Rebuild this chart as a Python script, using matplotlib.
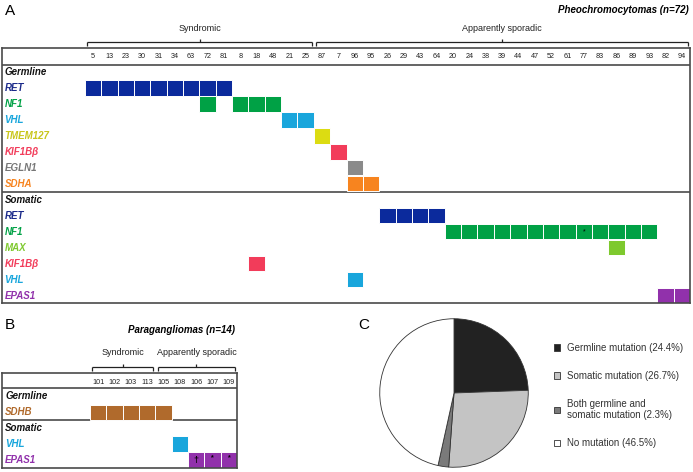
import matplotlib
matplotlib.use('Agg')
import matplotlib.pyplot as plt

plt.rcParams['font.family'] = ['Liberation Sans', 'DejaVu Sans']

# %%
# panel A - pheochromocytomas, case numbers in column order
pheo_cases = [5, 13, 23, 30, 31, 34, 63, 72, 81, 8, 18, 48, 21, 25, 87, 7, 96, 95,
              26, 29, 43, 64, 20, 24, 38, 39, 44, 47, 52, 61, 77, 83, 86, 89, 93, 82, 94]
pheo_syndromic = [5, 25]   # first / last case of the group
pheo_sporadic = [87, 94]

germ_genes = ['RET', 'NF1', 'VHL', 'TMEM127', 'KIF1Bβ', 'EGLN1', 'SDHA']
germ_ret = [5, 13, 23, 30, 31, 34, 63, 72, 81]
germ_nf1 = [72, 8, 18, 48]
germ_vhl = [21, 25]
germ_tmem127 = [87]
germ_kif1b = [7]
germ_egln1 = [96]
germ_sdha = [96, 95]

som_genes = ['RET', 'NF1', 'MAX', 'KIF1Bβ', 'VHL', 'EPAS1']
som_ret = [26, 29, 43, 64]
som_nf1 = [20, 24, 38, 39, 44, 47, 52, 61, 77, 83, 86, 89, 93]
som_max = [86]
som_kif1b = [18]
som_vhl = [96]
som_epas1 = [82, 94]
som_nf1_star = [77]

# panel B - paragangliomas
pgl_cases = [101, 102, 103, 113, 105, 108, 106, 107, 109]
pgl_syndromic = [101, 113]
pgl_sporadic = [105, 109]
pgl_germ_genes = ['SDHB']
pgl_germ_sdhb = [101, 102, 103, 113, 105]
pgl_som_genes = ['VHL', 'EPAS1']
pgl_som_vhl = [108]
pgl_som_epas1 = [106, 107, 109]
pgl_epas1_marks = ['†', '*', '*']

# panel C - pie
pie_labels = ['Germline mutation (24.4%)', 'Somatic mutation (26.7%)',
              'Both germline and\nsomatic mutation (2.3%)', 'No mutation (46.5%)']
pie_values = [24.4, 26.7, 2.3, 46.5]
pie_colors = ['#222222', '#c4c4c4', '#7a7a7a', '#ffffff']

gene_colors = {'RET': '#0b2a9c', 'NF1': '#00a145', 'VHL': '#19a6dc', 'TMEM127': '#dcdc12',
               'KIF1Bβ': '#f23c5a', 'EGLN1': '#8a8a8a', 'SDHA': '#f7841f', 'MAX': '#7ec92e',
               'EPAS1': '#9131ab', 'SDHB': '#b06a2c'}
label_colors = dict(gene_colors, TMEM127='#c9c61c', RET='#1b2a8a', EGLN1='#767676')

W, H = 693, 472
fig = plt.figure(figsize=(W / 100, H / 100), dpi=100)
fig.patch.set_facecolor('white')


def px_axes(x0, y0, x1, y1):
    # axes placed by pixel box of the reference
    return fig.add_axes([x0 / W, 1 - y1 / H, (x1 - x0) / W, (y1 - y0) / H])


def tiles(ax, cases, hits, row, gene):
    x = [cases.index(c) for c in hits]
    ax.bar(x, 0.94, bottom=row - 0.47, width=1.0, color=gene_colors[gene],
           edgecolor='white', linewidth=0.7, zorder=2)


def bracket(ax, cases, group, y, label, ty):
    a, b = cases.index(group[0]) - 0.35, cases.index(group[1]) + 0.38
    kw = dict(color='#222222', lw=0.9, clip_on=False, solid_capstyle='butt')
    ax.plot([a, b], [y, y], **kw)
    ax.plot([a, a], [y, y + 0.25], **kw)
    ax.plot([b, b], [y, y + 0.25], **kw)
    m = (a + b) / 2
    ax.plot([m, m], [y, y - 0.2], **kw)
    ax.text(m, ty, label, ha='center', va='center', fontsize=6.5, color='#222222')


def frame(ax, xlim, ylim, seps):
    ax.set_xlim(*xlim)
    ax.set_ylim(*ylim)
    ax.set_xticks([])
    ax.set_yticks([])
    for s in ax.spines.values():
        s.set_linewidth(1.2)
        s.set_color('#4a4a4a')
    for y in seps:
        ax.axhline(y, color='#4a4a4a', lw=1.2)


def row_label(ax, x, row, text, color, size=7):
    ax.text(x, row, text, ha='left', va='center', fontsize=size, color=color,
            fontweight='bold', fontstyle='italic')


# %%
# panel A
axA = px_axes(2, 48, 690, 303)
frame(axA, (-5.56, 36.49), (14.44, -1.5), [-0.44, 7.5])
for i, c in enumerate(pheo_cases):
    axA.text(i, -0.95, str(c), ha='center', va='center', fontsize=5.2, color='#222222')

germ_hits = [germ_ret, germ_nf1, germ_vhl, germ_tmem127, germ_kif1b, germ_egln1, germ_sdha]
som_hits = [som_ret, som_nf1, som_max, som_kif1b, som_vhl, som_epas1]
row_label(axA, -5.4, 0, 'Germline', '#111111')
for r, (g, hits) in enumerate(zip(germ_genes, germ_hits), start=1):
    row_label(axA, -5.4, r, g, label_colors[g])
    tiles(axA, pheo_cases, hits, r, g)
row_label(axA, -5.4, 8, 'Somatic', '#111111')
for r, (g, hits) in enumerate(zip(som_genes, som_hits), start=9):
    row_label(axA, -5.4, r, g, label_colors[g])
    tiles(axA, pheo_cases, hits, r, g)
for c in som_nf1_star:
    axA.text(pheo_cases.index(c), 10, '*', ha='center', va='center', fontsize=5, zorder=3)

bracket(axA, pheo_cases, pheo_syndromic, -1.875, 'Syndromic', -2.75)
bracket(axA, pheo_cases, pheo_sporadic, -1.875, 'Apparently sporadic', -2.75)
axA.text(36.4, -3.9, 'Pheochromocytomas (n=72)', ha='right', va='center', fontsize=7,
         fontweight='bold', fontstyle='italic', clip_on=False)

# %%
# panel B
axB = px_axes(2, 373, 237, 468)
frame(axB, (-5.87, 8.49), (4.5, -1.44), [-0.5, 1.5])
for i, c in enumerate(pgl_cases):
    axB.text(i, -0.85, str(c), ha='center', va='center', fontsize=5.2, color='#222222')
row_label(axB, -5.68, 0, 'Germline', '#111111')
row_label(axB, -5.68, 1, pgl_germ_genes[0], label_colors['SDHB'])
tiles(axB, pgl_cases, pgl_germ_sdhb, 1, 'SDHB')
row_label(axB, -5.68, 2, 'Somatic', '#111111')
for r, (g, hits) in enumerate(zip(pgl_som_genes, [pgl_som_vhl, pgl_som_epas1]), start=3):
    row_label(axB, -5.68, r, g, label_colors[g])
    tiles(axB, pgl_cases, hits, r, g)
for c, m in zip(pgl_som_epas1, pgl_epas1_marks):
    axB.text(pgl_cases.index(c), 4.05 if m == '†' else 3.85, m, ha='center', va='center',
             fontsize=6.5 if m == '†' else 5, fontweight='bold', zorder=3)
bracket(axB, pgl_cases, pgl_syndromic, -1.81, 'Syndromic', -2.75)
bracket(axB, pgl_cases, pgl_sporadic, -1.81, 'Apparently sporadic', -2.75)
axB.text(8.35, -4.1, 'Paragangliomas (n=14)', ha='right', va='center', fontsize=7,
         fontweight='bold', fontstyle='italic', clip_on=False)

# %%
# panel C
axC = px_axes(454 - 75, 393 - 75, 454 + 75, 393 + 75)
wedges, _ = axC.pie(pie_values, colors=pie_colors, startangle=90, counterclock=False,
                    wedgeprops=dict(edgecolor='#333333', linewidth=0.6))
axC.set_xlim(-1.01, 1.01)
axC.set_ylim(-1.01, 1.01)
axC.axis('off')
fig.legend(wedges, pie_labels, loc='upper left', bbox_to_anchor=(550 / W, 1 - 339 / H),
           frameon=False, fontsize=7, handlelength=0.65, handleheight=0.65,
           handletextpad=0.7, labelspacing=1.85, borderaxespad=0, labelcolor='#333333')

# panel letters
for x, y, t in [(5, 11, 'A'), (5, 325, 'B'), (358, 325, 'C')]:
    fig.text(x / W, 1 - y / H, t, fontsize=11, va='center', ha='left')

fig.savefig('out.png', dpi=100, facecolor='white')
